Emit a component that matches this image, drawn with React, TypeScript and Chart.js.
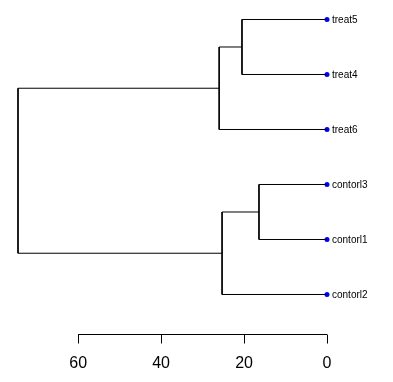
import React, { useEffect, useRef } from "react";
import { Chart, registerables } from "chart.js";

Chart.register(...registerables);

// leaves in order from bottom (1) to top (6)
const leaves = ["contorl2", "contorl1", "contorl3", "treat6", "treat4", "treat5"];
// merges (like hclust): left child, right child, height
const mergeA = ["treat5", "contorl3", "m1", "m2", "m3"];
const mergeB = ["treat4", "contorl1", "treat6", "contorl2", "m4"];
const mergeHeight = [20.5, 16.4, 26.0, 25.3, 74.5];
const axisTicks = [0, 20, 40, 60];

export default function App() {
  const ref = useRef<HTMLCanvasElement>(null);
  useEffect(() => {
    if (!ref.current) return;
    const pos: Record<string, { x: number; y: number }> = {};
    leaves.forEach((l, i) => (pos[l] = { x: 0, y: i + 1 }));
    const connectorSets: any[] = [];
    mergeA.forEach((a, i) => {
      const b = mergeB[i];
      const h = mergeHeight[i];
      const pa = pos[a];
      const pb = pos[b];
      connectorSets.push({
        type: "scatter",
        data: [
          { x: pa.x, y: pa.y },
          { x: h, y: pa.y },
          { x: h, y: pb.y },
          { x: pb.x, y: pb.y },
        ],
        showLine: true,
        borderColor: "#000000",
        borderWidth: 1,
        pointRadius: 0,
        clip: false,
      });
      pos["m" + (i + 1)] = { x: h, y: (pa.y + pb.y) / 2 };
    });

    const labelPlugin = {
      id: "dendroExtras",
      afterDraw(chart: any) {
        const { ctx, scales, chartArea } = chart;
        const xs = scales.x;
        const ys = scales.y;
        ctx.save();
        // leaf labels
        ctx.font = "10px 'Liberation Sans', Arial, sans-serif";
        ctx.fillStyle = "#000000";
        ctx.textBaseline = "middle";
        ctx.textAlign = "left";
        leaves.forEach((l, i) => {
          ctx.fillText(l, xs.getPixelForValue(0) + 5, ys.getPixelForValue(i + 1) + 1);
        });
        // axis
        const y0 = Math.round(chartArea.bottom) + 0.5;
        const xMin = xs.getPixelForValue(Math.max(...axisTicks));
        const xMax = xs.getPixelForValue(Math.min(...axisTicks));
        ctx.strokeStyle = "#000000";
        ctx.lineWidth = 1;
        ctx.beginPath();
        ctx.moveTo(xMin, y0);
        ctx.lineTo(xMax, y0);
        axisTicks.forEach((t) => {
          const px = Math.round(xs.getPixelForValue(t)) + 0.5;
          ctx.moveTo(px, y0);
          ctx.lineTo(px, y0 + 9);
        });
        ctx.stroke();
        ctx.font = "16px 'Liberation Sans', Arial, sans-serif";
        ctx.textAlign = "center";
        ctx.textBaseline = "middle";
        axisTicks.forEach((t) => {
          ctx.fillText(String(t), xs.getPixelForValue(t), y0 + 29);
        });
        ctx.restore();
      },
    };

    const chart = new Chart(ref.current, {
      type: "scatter",
      data: {
        datasets: [
          ...connectorSets,
          {
            type: "scatter",
            data: leaves.map((l, i) => ({ x: 0, y: i + 1 })),
            pointRadius: 2.5,
            pointBackgroundColor: "#0000FF",
            pointBorderColor: "#0000FF",
            pointBorderWidth: 0,
            showLine: false,
            clip: false,
          },
        ],
      },
      options: {
        responsive: false,
        animation: false,
        devicePixelRatio: 1,
        layout: { padding: { left: 18, right: 66, top: 8, bottom: 48 } },
        plugins: { legend: { display: false }, tooltip: { enabled: false } },
        scales: {
          x: { type: "linear", reverse: true, min: 0, max: 74.5, display: false },
          y: { type: "linear", min: 0.2818, max: 6.209, display: false },
        },
      },
      plugins: [labelPlugin],
    });
    return () => chart.destroy();
  }, []);
  return (
    <div style={{ position: "absolute", left: 0, top: 0, width: 393, height: 382, background: "#fff" }}>
      <canvas ref={ref} width={393} height={382} />
    </div>
  );
}
